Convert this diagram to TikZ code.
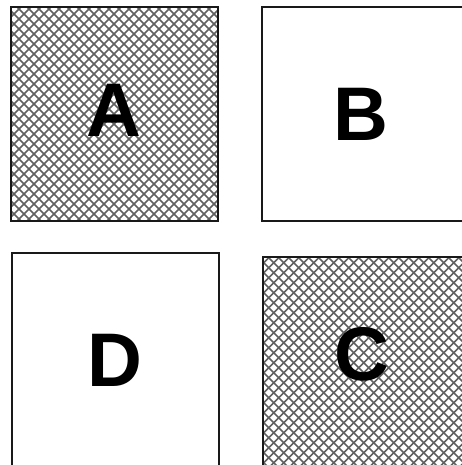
\documentclass[tikz,border=0pt]{standalone}
\usepackage{fontspec}
\setmainfont{Liberation Sans}
\usetikzlibrary{positioning}

\begin{document}
\begin{tikzpicture}[
    x=1pt, y=-1pt,
    square/.style={draw=black!90, line width=2pt, inner sep=0pt},
    hatchline/.style={draw=black!62, line width=1.5pt},
    hatched/.style={path picture={
      \foreach \k in {-250,-240,...,250} {
        \draw[hatchline] ([xshift=\k pt]path picture bounding box.center) ++(-130,-130) -- ++(260,260);
        \draw[hatchline] ([xshift=\k pt]path picture bounding box.center) ++(-130,130) -- ++(260,-260);
      }}},
    letter/.style={font=\fontsize{76}{76}\selectfont\bfseries, inner sep=0pt},
]
  \clip (0,0) rectangle (462,465);
  \fill[white] (0,0) rectangle (462,465);

  % top row
  \node[square, hatched, minimum width=207pt, minimum height=213pt,
        label={[letter, yshift=4pt]center:A}] (a) at (114,114) {};
  \node[square, minimum width=203.5pt, minimum height=213pt,
        label={[letter, xshift=-2pt]center:B}] (b) at (363.25,114) {};

  % bottom row
  \node[square, minimum width=206.5pt, minimum height=214pt,
        label={[letter]center:D}] (d) at (115.25,360) {};
  \node[square, hatched, minimum width=202.5pt, minimum height=212.5pt,
        label={[letter, xshift=-2pt, yshift=8pt]center:C}] (c) at (363.75,362.75) {};
\end{tikzpicture}
\end{document}
